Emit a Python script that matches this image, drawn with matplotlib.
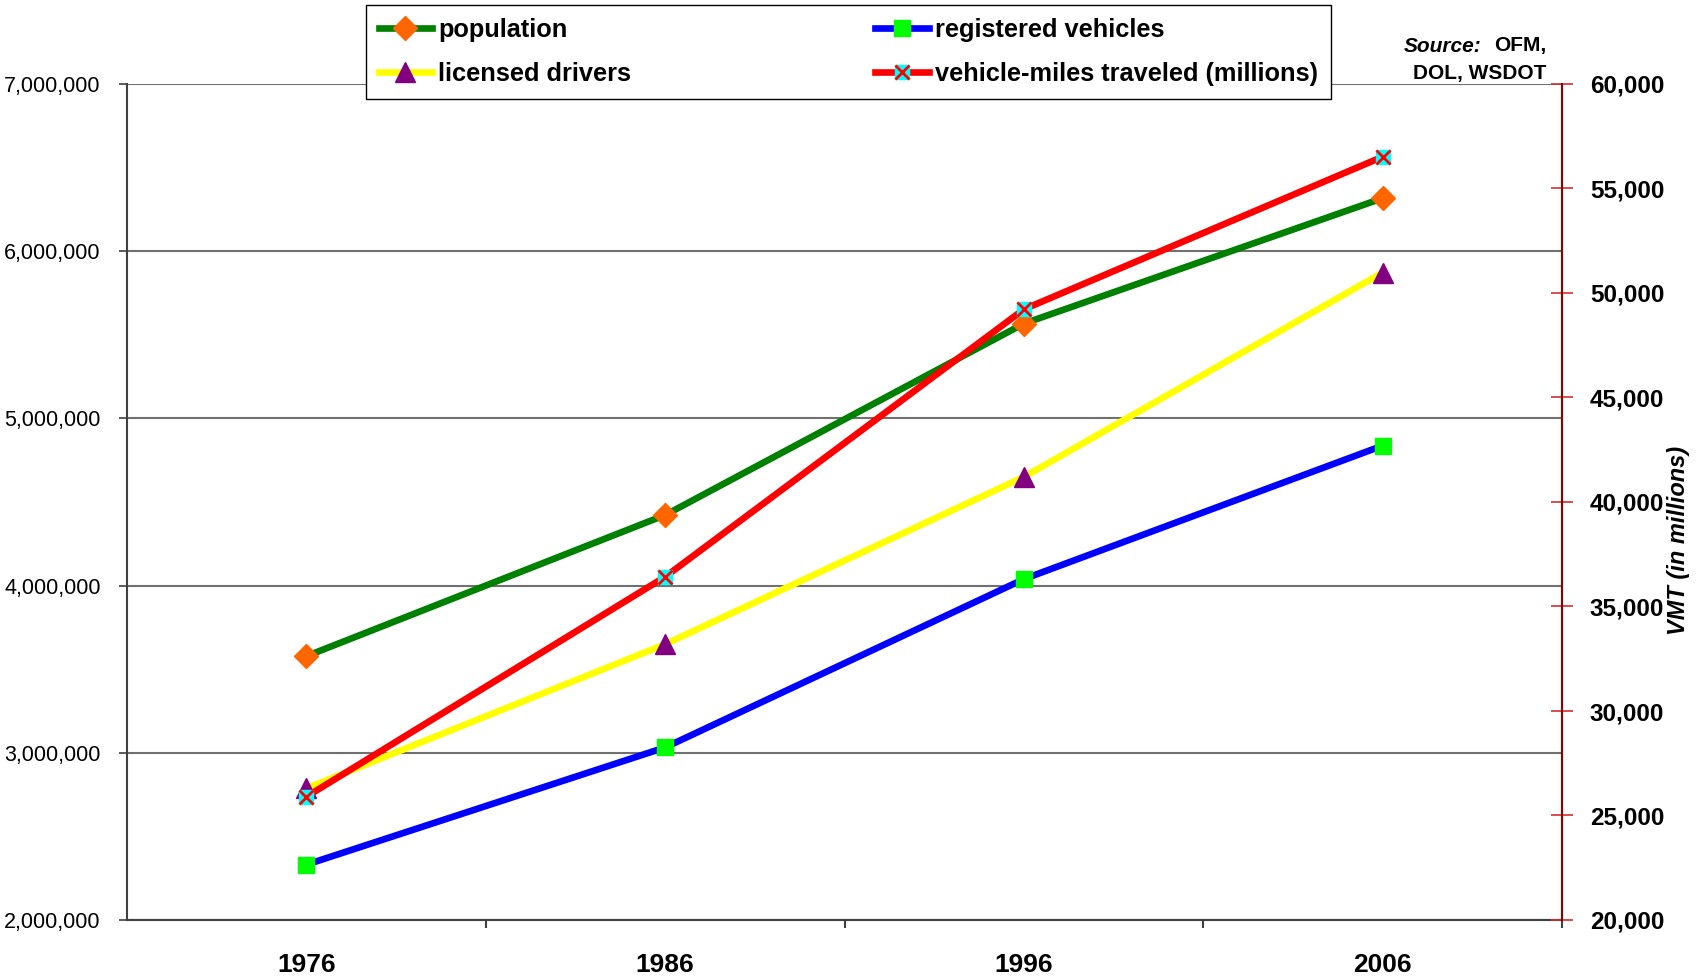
import matplotlib
matplotlib.use("Agg")
import matplotlib.pyplot as plt
from matplotlib.ticker import FuncFormatter, MultipleLocator, FixedLocator
from matplotlib.legend_handler import HandlerTuple

# Washington State growth indicators, 1976-2006
years = ["1976", "1986", "1996", "2006"]
population = [3578000, 4422000, 5567000, 6317000]
registered_vehicles = [2331000, 3032000, 4039000, 4837000]
licensed_drivers = [2787000, 3649000, 4650000, 5872000]
vmt_millions = [25900, 36420, 49220, 56520]

plt.rcParams["font.family"] = ["Liberation Sans", "DejaVu Sans"]

fig = plt.figure(figsize=(17.05, 9.8), dpi=100)
ax = fig.add_axes([127 / 1705, 60 / 980, 1435 / 1705, 836 / 980])
ax2 = ax.twinx()

x = list(range(len(years)))
lw = 4.8

ax.plot(x, population, color="#008000", lw=lw, marker="D", ms=12,
        mfc="#FF6600", mec="#FF6600", label="population", zorder=3)
ax.plot(x, registered_vehicles, color="#0000FF", lw=lw, marker="s", ms=11.5,
        mfc="#00FF00", mec="#00FF00", label="registered vehicles", zorder=3)
ax.plot(x, licensed_drivers, color="#FFFF00", lw=lw, marker="^", ms=14,
        mfc="#800080", mec="#800080", label="licensed drivers", zorder=3)

vmt_line, = ax2.plot(x, vmt_millions, color="#FF0000", lw=lw, marker="s", ms=9.5,
                     mfc="#00FFFF", mec="#00FFFF", zorder=3)
vmt_x, = ax2.plot(x, vmt_millions, ls="none", marker="x", ms=9.5, mew=2,
                  color="#FF0000", zorder=4)

# left axis
ax.set_xlim(-0.5, 3.5)
ax.set_ylim(2000000, 7000000)
ax.yaxis.set_major_locator(MultipleLocator(1000000))
ax.yaxis.set_major_formatter(FuncFormatter(lambda v, p: f"{v:,.0f}"))
ax.grid(axis="y", color="#707070", lw=1.5)
ax.set_axisbelow(True)
ax.tick_params(axis="y", direction="out", length=6, width=1.2, pad=13,
               color="#404040", labelsize=15.5)

ax.set_xticks(x)
ax.set_xticklabels(years, fontsize=19, fontweight="bold")
ax.xaxis.set_minor_locator(FixedLocator([0.5, 1.5, 2.5, 3.5]))
ax.tick_params(axis="x", which="major", length=0, pad=24)
ax.tick_params(axis="x", which="minor", direction="out", length=6,
               width=1.5, color="#404040")

ax.spines["top"].set_visible(False)
ax2.spines["top"].set_visible(False)
ax.spines["left"].set_color("#404040")
ax.spines["bottom"].set_color("#404040")
ax.spines["left"].set_linewidth(1.5)
ax.spines["bottom"].set_linewidth(1.5)

# right axis: vehicle-miles traveled
ax2.set_ylim(20000, 60000)
ax2.yaxis.set_major_locator(MultipleLocator(5000))
ax2.yaxis.set_major_formatter(FuncFormatter(lambda v, p: f"{v:,.0f}"))
ax2.spines["right"].set_color("#8B0000")
ax2.spines["right"].set_linewidth(1.5)
ax2.spines["left"].set_visible(False)
ax2.spines["bottom"].set_visible(False)
ax2.tick_params(axis="y", direction="inout", length=16, width=1.2,
                color="#D03030", pad=12, labelsize=17.5)
for t in ax2.get_yticklabels():
    t.set_fontweight("bold")

fig.text(1678 / 1705, 0.449, "VMT (in millions)", rotation=90, fontsize=17,
         fontweight="bold", fontstyle="italic", ha="center", va="center")

# source note
fig.text(1482 / 1705, 1 - 46 / 980, "Source:", fontsize=15, fontweight="bold",
         fontstyle="italic", ha="right", va="center")
fig.text(1546 / 1705, 1 - 46 / 980, "OFM,", fontsize=15, fontweight="bold",
         ha="right", va="center")
fig.text(1546 / 1705, 1 - 73 / 980, "DOL, WSDOT", fontsize=15,
         fontweight="bold", ha="right", va="center")

h = ax.get_legend_handles_labels()[0]
handles = [h[0], h[2], h[1], (vmt_line, vmt_x)]
labels = ["population", "licensed drivers", "registered vehicles",
          "vehicle-miles traveled (millions)"]
leg = fig.legend(handles, labels, ncol=2, loc="upper left",
                 bbox_to_anchor=(366 / 1705, 1 - 5 / 980), borderaxespad=0,
                 prop={"weight": "bold", "size": 18.3}, handlelength=2.1,
                 handletextpad=0.25, columnspacing=9.6, labelspacing=0.8,
                 borderpad=0.5, fancybox=False, edgecolor="black",
                 framealpha=1, handler_map={tuple: HandlerTuple(ndivide=1)})
leg.get_frame().set_linewidth(1.0)

fig.savefig("out.png", dpi=100)
